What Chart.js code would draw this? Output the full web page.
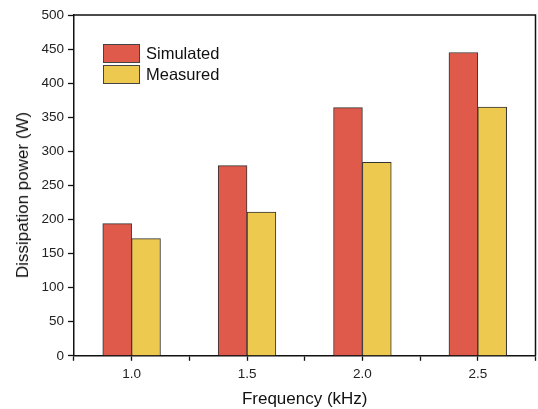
<!DOCTYPE html>
<html>
<head>
<meta charset="utf-8">
<script src="https://cdn.jsdelivr.net/npm/chart.js@4.4.1/dist/chart.umd.min.js"></script>
<style>
    body { margin: 0; background: #fff; }
    #wrap { position: relative; width: 538px; height: 409px; }
    #legend {
        position: absolute; left: 103px; top: 44px;
        font-family: "Liberation Sans", Arial, sans-serif; font-size: 16.5px; color: #111;
    }
    .item { display: flex; align-items: center; height: 19px; margin-bottom: 2px; }
    .box { width: 35px; height: 17px; border: 1px solid #444; margin-right: 6px; }
    #ytitle {
        position: absolute; left: 23px; top: 195px;
        transform: translate(-50%, -50%) rotate(-90deg);
        white-space: nowrap;
        font-family: "Liberation Sans", Arial, sans-serif; font-size: 17px; color: #111;
    }
</style>
</head>
<body>
<div id="wrap">
    <canvas id="chart"></canvas>
    <div id="legend"></div>
    <div id="ytitle"></div>
</div>
<script>
// values
const freqs = [1.0, 1.5, 2.0, 2.5];
const simulated = [194, 279, 364, 445];
const measured = [172, 211, 284, 365];
const seriesNames = ['Simulated', 'Measured'];
const seriesColors = ['#E05A4B', '#EEC94F'];
const yTicks = { min: 0, max: 500, step: 50 };
const xTitle = 'Frequency (kHz)';
const yTitle = 'Dissipation power (W)';

const toPoints = vals => vals.map((v, i) => ({ x: freqs[i], y: v }));

// legend drawn inside the plot as html
const legend = document.getElementById('legend');
seriesNames.forEach((name, i) => {
    const item = document.createElement('div');
    item.className = 'item';
    item.innerHTML = `<span class="box" style="background:${seriesColors[i]}"></span><span>${name}</span>`;
    legend.appendChild(item);
});

// y title sits a bit below the axis centre in the original, so it is placed by hand
document.getElementById('ytitle').textContent = yTitle;

// draws the top and right edge of the frame
const frame = {
    id: 'frame',
    afterDraw(chart) {
        const { ctx, chartArea: a } = chart;
        ctx.save();
        ctx.strokeStyle = '#111';
        ctx.lineWidth = 1.5;
        ctx.beginPath();
        ctx.moveTo(a.left, a.top);
        ctx.lineTo(a.right, a.top);
        ctx.lineTo(a.right, a.bottom);
        ctx.stroke();
        ctx.restore();
    }
};

const font = { family: '"Liberation Sans", Arial, sans-serif' };

new Chart(document.getElementById('chart'), {
    type: 'bar',
    data: {
        datasets: [
            { label: seriesNames[0], data: toPoints(simulated), backgroundColor: seriesColors[0] },
            { label: seriesNames[1], data: toPoints(measured), backgroundColor: seriesColors[1] }
        ].map(d => Object.assign(d, {
            borderColor: '#333',
            borderWidth: 1,
            categoryPercentage: 1.0,
            barPercentage: 1.0
        }))
    },
    options: {
        responsive: true,
        maintainAspectRatio: false,
        animation: false,
        layout: { padding: { top: 15, right: 2.5, left: 37.4, bottom: 1 } },
        plugins: {
            legend: { display: false },
            tooltip: { enabled: false }
        },
        scales: {
            x: {
                type: 'linear',
                min: 0.75,
                max: 2.75,
                offset: false,
                afterFit(scale) {
                    // no extra room for the empty end labels
                    scale.paddingLeft = 0;
                    scale.paddingRight = 0;
                },
                grid: { offset: false, drawOnChartArea: false, tickLength: 5, tickColor: '#111', tickWidth: 1.3 },
                border: { color: '#111', width: 1.5 },
                ticks: {
                    stepSize: 0.25,
                    autoSkip: false,
                    maxRotation: 0,
                    padding: 5,
                    color: '#222',
                    font: { ...font, size: 13.5 },
                    callback: v => freqs.includes(v) ? v.toFixed(1) : ''
                },
                title: {
                    display: true,
                    text: xTitle,
                    color: '#111',
                    font: { ...font, size: 17, lineHeight: 1.0 },
                    padding: { top: 4, bottom: 0 }
                }
            },
            y: {
                min: yTicks.min,
                max: yTicks.max,
                grid: { drawOnChartArea: false, tickLength: 6, tickColor: '#111', tickWidth: 1.3 },
                border: { color: '#111', width: 1.5 },
                ticks: {
                    stepSize: yTicks.step,
                    padding: 4,
                    color: '#222',
                    font: { ...font, size: 13.5 }
                }
            }
        }
    },
    plugins: [frame]
});
</script>
</body>
</html>
